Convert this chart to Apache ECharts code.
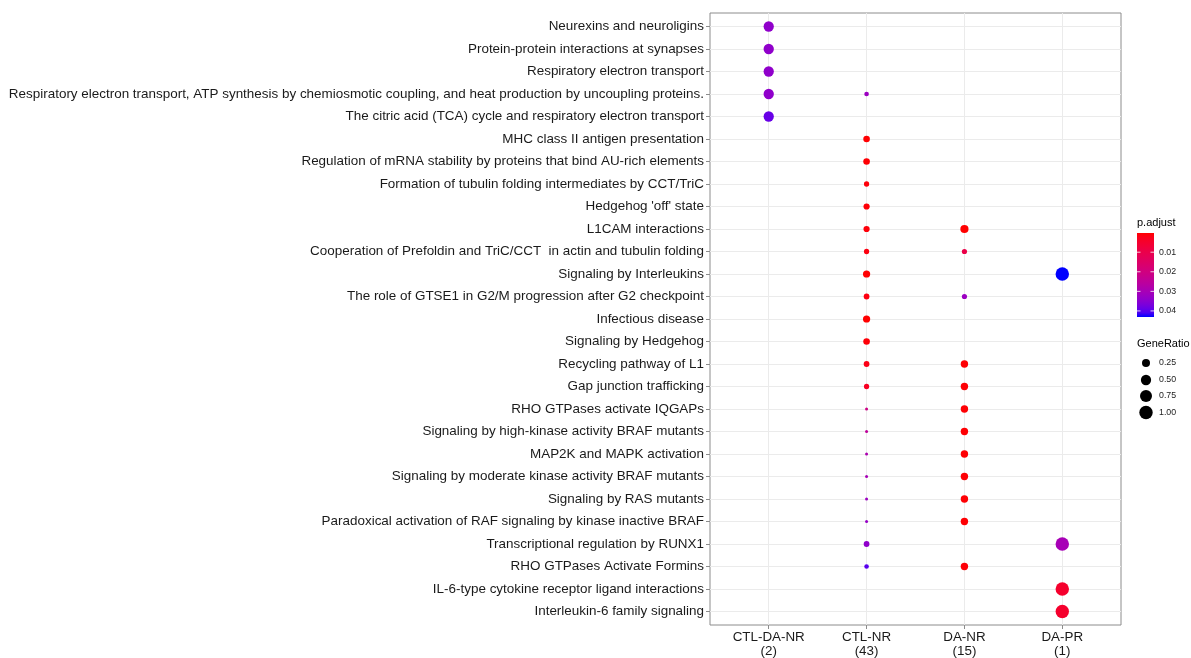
<!DOCTYPE html>
<html>
<head>
<meta charset="utf-8">
<script src="https://cdn.jsdelivr.net/npm/echarts@6/dist/echarts.min.js"></script>
<style>
  html, body { margin: 0; padding: 0; background: #ffffff; }
  #chart { width: 1191px; height: 658px; }
</style>
</head>
<body>
<div id="chart"></div>
<script>
// Reactome pathways, top to bottom
const pathways = [
  'Neurexins and neuroligins',
  'Protein-protein interactions at synapses',
  'Respiratory electron transport',
  'Respiratory electron transport, ATP synthesis by chemiosmotic coupling, and heat production by uncoupling proteins.',
  'The citric acid (TCA) cycle and respiratory electron transport',
  'MHC class II antigen presentation',
  'Regulation of mRNA stability by proteins that bind AU-rich elements',
  'Formation of tubulin folding intermediates by CCT/TriC',
  "Hedgehog 'off' state",
  'L1CAM interactions',
  'Cooperation of Prefoldin and TriC/CCT  in actin and tubulin folding',
  'Signaling by Interleukins',
  'The role of GTSE1 in G2/M progression after G2 checkpoint',
  'Infectious disease',
  'Signaling by Hedgehog',
  'Recycling pathway of L1',
  'Gap junction trafficking',
  'RHO GTPases activate IQGAPs',
  'Signaling by high-kinase activity BRAF mutants',
  'MAP2K and MAPK activation',
  'Signaling by moderate kinase activity BRAF mutants',
  'Signaling by RAS mutants',
  'Paradoxical activation of RAF signaling by kinase inactive BRAF',
  'Transcriptional regulation by RUNX1',
  'RHO GTPases Activate Formins',
  'IL-6-type cytokine receptor ligand interactions',
  'Interleukin-6 family signaling'
];

const clusters = ['CTL-DA-NR', 'CTL-NR', 'DA-NR', 'DA-PR'];
const clusterSizes = [2, 43, 15, 1];

// enriched terms per cluster: [pathway index, gene count, p.adjust]
const hitsCtlDaNr = [
  [0, 1, 0.0340], [1, 1, 0.0340], [2, 1, 0.0340], [3, 1, 0.0340], [4, 1, 0.0388]
];
const hitsCtlNr = [
  [3, 2, 0.0320], [5, 6, 0.0004], [6, 6, 0.0005], [7, 3, 0.0010], [8, 5, 0.0008],
  [9, 5, 0.0010], [10, 3, 0.0015], [11, 8, 0.0004], [12, 4, 0.0015], [13, 8, 0.0002],
  [14, 6, 0.0008], [15, 4, 0.0020], [16, 3, 0.0035], [17, 1, 0.0210], [18, 1, 0.0250],
  [19, 1, 0.0290], [20, 1, 0.0300], [21, 1, 0.0320], [22, 1, 0.0330], [23, 4, 0.0340],
  [24, 2, 0.0400]
];
const hitsDaNr = [
  [9, 4, 0.0003], [10, 1, 0.0095], [12, 1, 0.0320], [15, 3, 0.0005], [16, 3, 0.0005],
  [17, 3, 0.0005], [18, 3, 0.0005], [19, 3, 0.0005], [20, 3, 0.0005], [21, 3, 0.0005],
  [22, 3, 0.0005], [24, 3, 0.0008]
];
const hitsDaPr = [
  [11, 1, 0.0431], [23, 1, 0.0300], [25, 1, 0.0050], [26, 1, 0.0050]
];

const sizeBreaks = [0.25, 0.50, 0.75, 1.00];
const padjBreaks = [0.01, 0.02, 0.03, 0.04];

// ---- build scatter rows: [cluster x, pathway y, GeneRatio, p.adjust]
const hitsByCluster = [hitsCtlDaNr, hitsCtlNr, hitsDaNr, hitsDaPr];
const seriesData = hitsByCluster.map((hits, ci) =>
  hits.map(h => [ci, h[0], h[1] / clusterSizes[ci], h[2]])
);
const allRows = seriesData.flat();
const ratioMin = Math.min(...allRows.map(r => r[2]));
const ratioMax = Math.max(...allRows.map(r => r[2]));
const padjMin = Math.min(...allRows.map(r => r[3]));
const padjMax = Math.max(...allRows.map(r => r[3]));

// area scale for GeneRatio -> symbol diameter (px)
const SIZE_MIN = 3.0, SIZE_MAX = 13.4;
function ratioToSize(r) {
  const t = Math.max(0, (r - ratioMin) / (ratioMax - ratioMin));
  return SIZE_MIN + (SIZE_MAX - SIZE_MIN) * Math.sqrt(t);
}

// red -> blue gradient interpolated in CIE Lab
function srgbToLin(c) { c /= 255; return c <= 0.04045 ? c / 12.92 : Math.pow((c + 0.055) / 1.055, 2.4); }
function linToSrgb(c) { c = Math.min(1, Math.max(0, c)); return c <= 0.0031308 ? 12.92 * c : 1.055 * Math.pow(c, 1 / 2.4) - 0.055; }
const WX = 0.95047, WY = 1.0, WZ = 1.08883;
function fLab(t) { return t > 0.008856 ? Math.cbrt(t) : 7.787 * t + 16 / 116; }
function fInv(f) { const f3 = f * f * f; return f3 > 0.008856 ? f3 : (f - 16 / 116) / 7.787; }
function rgbToLab(rgb) {
  const r = srgbToLin(rgb[0]), g = srgbToLin(rgb[1]), b = srgbToLin(rgb[2]);
  const X = 0.4124 * r + 0.3576 * g + 0.1805 * b;
  const Y = 0.2126 * r + 0.7152 * g + 0.0722 * b;
  const Z = 0.0193 * r + 0.1192 * g + 0.9505 * b;
  const fx = fLab(X / WX), fy = fLab(Y / WY), fz = fLab(Z / WZ);
  return [116 * fy - 16, 500 * (fx - fy), 200 * (fy - fz)];
}
function labToHex(lab) {
  const fy = (lab[0] + 16) / 116, fx = fy + lab[1] / 500, fz = fy - lab[2] / 200;
  const X = WX * fInv(fx), Y = WY * fInv(fy), Z = WZ * fInv(fz);
  const r = 3.2406 * X - 1.5372 * Y - 0.4986 * Z;
  const g = -0.9689 * X + 1.8758 * Y + 0.0415 * Z;
  const b = 0.0557 * X - 0.2040 * Y + 1.0570 * Z;
  const h = v => ('0' + Math.round(linToSrgb(v) * 255).toString(16)).slice(-2);
  return '#' + h(r) + h(g) + h(b);
}
const labLow = rgbToLab([255, 0, 0]);
const labHigh = rgbToLab([0, 0, 255]);
function rampColor(t) {
  return labToHex(labLow.map((v, i) => v + (labHigh[i] - v) * t));
}
const rampStops = [];
for (let i = 0; i <= 20; i++) rampStops.push(rampColor(i / 20));

// ---- layout
const GRID = { left: 710, top: 13, width: 411, height: 613 };
const TEXT_FONT = 'Liberation Sans, Arial, Helvetica, sans-serif';
const LINE_GREY = '#8c8c8c';

// colour bar + size legend
const bar = { x: 1137, y: 233, w: 17, h: 84 };
const graphics = [];
graphics.push({
  type: 'text', left: bar.x, top: 217,
  style: { text: 'p.adjust', font: '11px ' + TEXT_FONT, fill: '#000' }
});
graphics.push({
  type: 'rect', shape: { x: bar.x, y: bar.y, width: bar.w, height: bar.h },
  style: {
    fill: new echarts.graphic.LinearGradient(0, 0, 0, 1,
      rampStops.map((c, i) => ({ offset: i / (rampStops.length - 1), color: c })))
  }
});
padjBreaks.forEach(v => {
  const y = bar.y + (v - padjMin) / (padjMax - padjMin) * bar.h;
  graphics.push({ type: 'line', shape: { x1: bar.x, y1: y, x2: bar.x + 3.5, y2: y }, style: { stroke: '#fff', lineWidth: 0.8 } });
  graphics.push({ type: 'line', shape: { x1: bar.x + bar.w - 3.5, y1: y, x2: bar.x + bar.w, y2: y }, style: { stroke: '#fff', lineWidth: 0.8 } });
  graphics.push({
    type: 'text', x: 1159, y: y,
    style: { text: v.toFixed(2), font: '8.8px ' + TEXT_FONT, fill: '#222', textVerticalAlign: 'middle' }
  });
});
graphics.push({
  type: 'text', left: bar.x, top: 338,
  style: { text: 'GeneRatio', font: '11px ' + TEXT_FONT, fill: '#000' }
});
const sizeRowsY = [363, 380, 396, 412.5];
sizeBreaks.forEach((v, i) => {
  graphics.push({
    type: 'circle', shape: { cx: 1146, cy: sizeRowsY[i], r: ratioToSize(v) / 2 },
    style: { fill: '#000' }
  });
  graphics.push({
    type: 'text', x: 1159, y: sizeRowsY[i],
    style: { text: v.toFixed(2), font: '8.8px ' + TEXT_FONT, fill: '#222', textVerticalAlign: 'middle' }
  });
});

const option = {
  animation: false,
  backgroundColor: '#ffffff',
  grid: Object.assign({ show: true, borderColor: LINE_GREY, borderWidth: 1, backgroundColor: '#fff' }, GRID),
  xAxis: {
    type: 'value',
    position: 'bottom',
    min: -0.6, max: clusters.length - 1 + 0.6,
    axisLine: { show: false, onZero: false },
    axisTick: { show: true, length: 4, lineStyle: { color: LINE_GREY }, customValues: clusters.map((_, i) => i) },
    axisLabel: {
      customValues: clusters.map((_, i) => i),
      formatter: v => clusters[Math.round(v)] + '\n(' + clusterSizes[Math.round(v)] + ')',
      color: '#1a1a1a', fontFamily: TEXT_FONT, fontSize: 13.4, lineHeight: 14, margin: 5
    },
    splitLine: { show: true, lineStyle: { color: '#ebebeb', width: 1 } }
  },
  yAxis: {
    type: 'value',
    position: 'left',
    inverse: true,
    min: -0.6, max: pathways.length - 1 + 0.6,
    axisLine: { show: false, onZero: false },
    axisTick: { show: true, length: 4, lineStyle: { color: LINE_GREY }, customValues: pathways.map((_, i) => i) },
    axisLabel: {
      customValues: pathways.map((_, i) => i),
      formatter: v => pathways[Math.round(v)],
      color: '#1a1a1a', fontFamily: TEXT_FONT, fontSize: 13.45, margin: 6,
      padding: [3, 0, 0, 0]
    },
    splitLine: { show: true, lineStyle: { color: '#ebebeb', width: 1 } }
  },
  visualMap: {
    type: 'continuous', show: false, dimension: 3,
    min: padjMin, max: padjMax,
    inRange: { color: rampStops }
  },
  series: seriesData.map((d, i) => ({
    name: clusters[i],
    type: 'scatter',
    data: d,
    symbol: 'circle',
    symbolSize: val => ratioToSize(val[2]),
    itemStyle: { opacity: 1 }
  })),
  graphic: graphics
};

const chart = echarts.init(document.getElementById('chart'), null, { renderer: 'canvas' });
chart.setOption(option);
</script>
</body>
</html>
